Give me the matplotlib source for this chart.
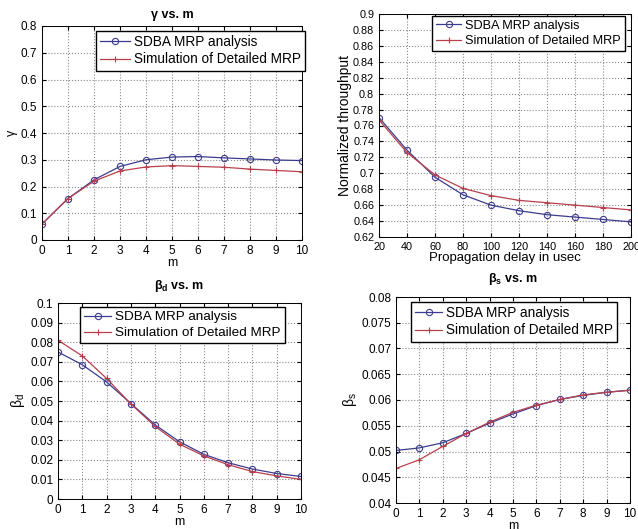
import matplotlib
matplotlib.use('Agg')
import matplotlib.pyplot as plt

plt.rcParams['font.family'] = ['Liberation Sans', 'DejaVu Sans']
plt.rcParams['mathtext.fontset'] = 'custom'
plt.rcParams['mathtext.rm'] = 'Liberation Sans'
plt.rcParams['mathtext.bf'] = 'Liberation Sans:bold'

# Data
m = list(range(11))
gamma_sdba = [0.06, 0.155, 0.225, 0.275, 0.300, 0.310, 0.312, 0.307, 0.303, 0.299, 0.297]
gamma_sim = [0.06, 0.155, 0.220, 0.258, 0.273, 0.278, 0.275, 0.272, 0.265, 0.260, 0.255]

delay = [20, 40, 60, 80, 100, 120, 140, 160, 180, 200]
thr_sdba = [0.770, 0.729, 0.695, 0.673, 0.660, 0.653, 0.648, 0.645, 0.642, 0.639]
thr_sim = [0.767, 0.726, 0.698, 0.681, 0.672, 0.666, 0.663, 0.660, 0.657, 0.654]

bd_sdba = [0.075, 0.0685, 0.0597, 0.0487, 0.0378, 0.0292, 0.0228, 0.0185, 0.0153, 0.0130, 0.0115]
bd_sim = [0.081, 0.0730, 0.0615, 0.0485, 0.0370, 0.0280, 0.0220, 0.0175, 0.0140, 0.0118, 0.0100]

bs_sdba = [0.0502, 0.0507, 0.0517, 0.0535, 0.0555, 0.0573, 0.0589, 0.0601, 0.0609, 0.0615, 0.0619]
bs_sim = [0.0467, 0.0484, 0.0510, 0.0535, 0.0557, 0.0576, 0.0590, 0.0601, 0.0610, 0.0615, 0.0619]

labels = ['SDBA MRP analysis', 'Simulation of Detailed MRP']
BLUE = '#3c3c8e'
RED = '#b8404e'

W, H = 638, 529
fig = plt.figure(figsize=(W / 100, H / 100), dpi=100)


def px_axes(l, t, r, b):
    return fig.add_axes([l / W, 1 - b / H, (r - l) / W, (b - t) / H])


def style(ax, fs=8.5):
    ax.grid(True, linestyle=':', color='#888888', linewidth=0.8)
    ax.tick_params(direction='in', length=3, labelsize=fs, top=True, right=True,
                   labeltop=False, labelright=False)
    for s in ax.spines.values():
        s.set_linewidth(0.7)


def draw(ax, x, y1, y2):
    ax.plot(x, y1, '-o', color=BLUE, lw=0.9, ms=4.5, mfc='none', mew=0.8, label=labels[0])
    ax.plot(x, y2, '-+', color=RED, lw=0.9, ms=5, mew=0.8, label=labels[1])


def legend(ax, lx, ty, fs=9.8, hl=2.0):
    ax.legend(loc='upper left', bbox_to_anchor=(lx / W, 1 - ty / H),
              bbox_transform=fig.transFigure, borderaxespad=0, fontsize=fs,
              fancybox=False, edgecolor='black', framealpha=1, handlelength=hl,
              borderpad=0.3, labelspacing=0.25, handletextpad=0.3)


# gamma vs m
ax1 = px_axes(42, 26, 302, 240)
draw(ax1, m, gamma_sdba, gamma_sim)
ax1.set_xlim(0, 10)
ax1.set_ylim(0, 0.8)
ax1.set_xticks(m)
ax1.set_yticks([0, 0.1, 0.2, 0.3, 0.4, 0.5, 0.6, 0.7, 0.8])
ax1.set_yticklabels(['0', '0.1', '0.2', '0.3', '0.4', '0.5', '0.6', '0.7', '0.8'])
style(ax1)
ax1.set_xlabel('m', fontsize=9, labelpad=0)
ax1.set_ylabel('γ', fontsize=9, labelpad=2)
ax1.set_title('γ vs. m', fontsize=9, fontweight='bold', pad=6)
legend(ax1, 96, 31, fs=9.8, hl=2.2)

# throughput vs delay
ax2 = px_axes(379, 14, 631, 237)
draw(ax2, delay, thr_sdba, thr_sim)
ax2.set_xlim(20, 200)
ax2.set_ylim(0.62, 0.9)
ax2.set_xticks(delay)
yt = [0.62 + 0.02 * i for i in range(15)]
ax2.set_yticks(yt)
ax2.set_yticklabels(['%g' % round(v, 2) for v in yt])
style(ax2, fs=7.8)
ax2.set_xlabel('Propagation delay in usec', fontsize=9.5, labelpad=0)
ax2.set_ylabel('Normalized throughput', fontsize=10, labelpad=1)
legend(ax2, 432, 16, fs=9.2, hl=2.0)

# beta_d vs m
ax3 = px_axes(58, 303, 301, 499)
draw(ax3, m, bd_sdba, bd_sim)
ax3.set_xlim(0, 10)
ax3.set_ylim(0, 0.1)
ax3.set_xticks(m)
yt = [0.01 * i for i in range(11)]
ax3.set_yticks(yt)
ax3.set_yticklabels(['0'] + ['%g' % round(v, 2) for v in yt[1:]])
style(ax3)
ax3.set_xlabel('m', fontsize=9, labelpad=0)
ax3.set_ylabel(r'β$_{\mathrm{d}}$', fontsize=10, labelpad=2)
ax3.set_title(r'β$_{\mathbf{d}}$ vs. m', fontsize=9, fontweight='bold', pad=10)
legend(ax3, 80, 307, fs=9.7)

# beta_s vs m
ax4 = px_axes(396, 297, 630, 503)
draw(ax4, m, bs_sdba, bs_sim)
ax4.set_xlim(0, 10)
ax4.set_ylim(0.04, 0.08)
ax4.set_xticks(m)
yt = [0.04 + 0.005 * i for i in range(9)]
ax4.set_yticks(yt)
ax4.set_yticklabels(['%g' % round(v, 3) for v in yt])
style(ax4)
ax4.set_xlabel('m', fontsize=9, labelpad=0)
ax4.set_ylabel(r'β$_{\mathrm{s}}$', fontsize=10, labelpad=2)
ax4.set_title(r'β$_{\mathbf{s}}$ vs. m', fontsize=9, fontweight='bold', pad=11)
legend(ax4, 411, 302, fs=9.8)

fig.savefig('out.png', dpi=100)
